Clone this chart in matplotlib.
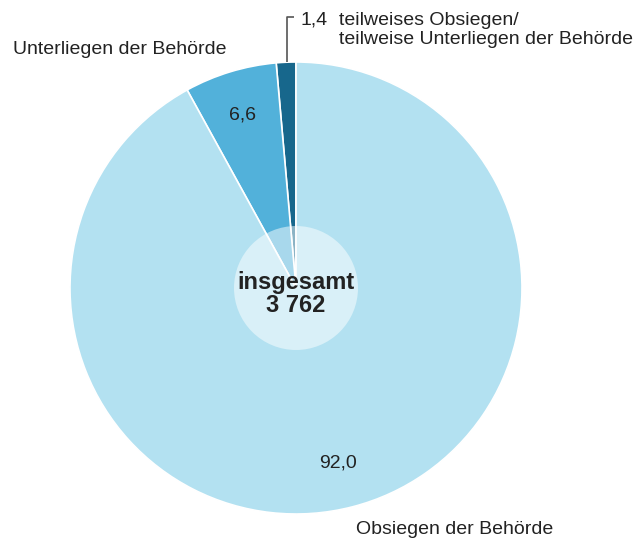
import matplotlib.pyplot as plt
from matplotlib.patches import Circle

# Anteile in %, gegen den Uhrzeigersinn ab 12 Uhr
labels = ["teilweises Obsiegen/\nteilweise Unterliegen der Behörde",
          "Unterliegen der Behörde",
          "Obsiegen der Behörde"]
values = [1.4, 6.6, 92.0]
value_labels = ["1,4", "6,6", "92,0"]
total_label = "insgesamt\n3 762"
colors = ["#17678c", "#52b1da", "#b3e1f1"]

W, H = 635, 541
plt.rcParams["font.family"] = ["Liberation Sans", "DejaVu Sans"]

fig = plt.figure(figsize=(W / 100, H / 100), dpi=100)
ax = fig.add_axes([0, 0, 1, 1])

cx, cy, r = 296, H - 288, 226
ax.pie(values, radius=r, center=(cx, cy), startangle=90, counterclock=True,
       colors=colors, wedgeprops=dict(edgecolor="white", linewidth=1.2))
ax.add_patch(Circle((cx, cy), 62, facecolor="white", alpha=0.5,
                    edgecolor="none", zorder=5))
ax.set_xlim(0, W)
ax.set_ylim(0, H)
ax.set_aspect("equal")
ax.axis("off")

txt = "#222222"
fs = 14

def y(px):
    return H - px

# centre
ax.text(cx, y(294), total_label, ha="center", va="center", fontsize=17,
        weight="bold", color=txt, linespacing=0.95, zorder=6)

# slice values
ax.text(242, y(115), value_labels[1], ha="center", va="center", fontsize=fs, color=txt)
ax.text(338, y(463), value_labels[2], ha="center", va="center", fontsize=fs, color=txt)

# small slice with leader
ax.plot([287, 287, 294], [y(62), y(17), y(17)], color="#555555", lw=1.2,
        solid_capstyle="butt")
ax.text(301, y(20), value_labels[0], ha="left", va="center", fontsize=fs, color=txt)
ax.text(339, y(30), labels[0], ha="left", va="center", fontsize=fs, color=txt,
        linespacing=1.1)

# category labels
ax.text(13, y(50), labels[1], ha="left", va="center", fontsize=fs, color=txt)
ax.text(356, y(530), labels[2], ha="left", va="center", fontsize=fs, color=txt)

fig.savefig("out.png", dpi=100)
